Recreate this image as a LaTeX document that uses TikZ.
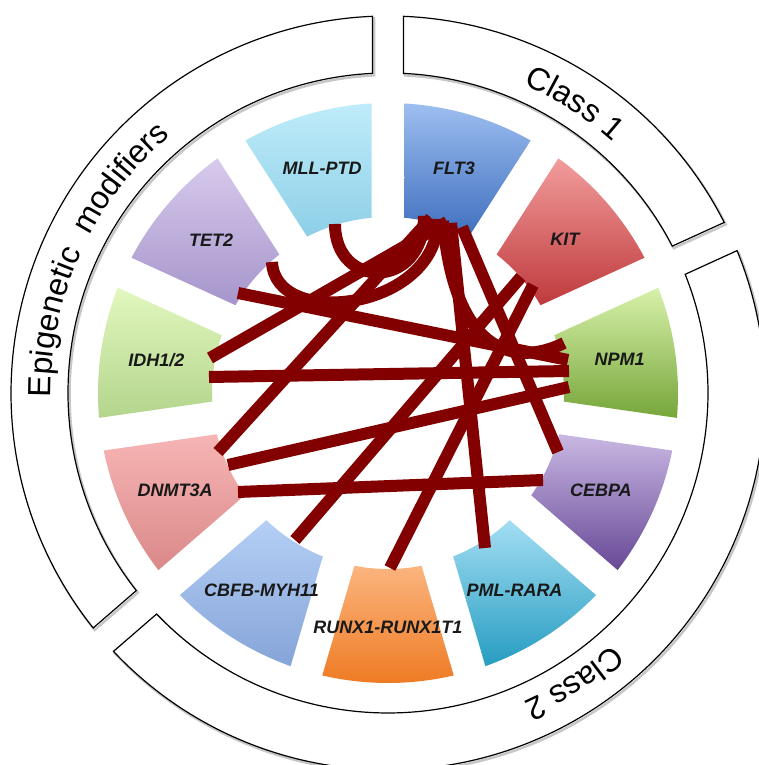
\documentclass[tikz,border=0pt]{standalone}
\usepackage{fontspec}
\setmainfont{Liberation Sans}
\usetikzlibrary{decorations.text}

\definecolor{linkred}{RGB}{130,0,0}
\definecolor{fltT}{HTML}{9DBEF0}\definecolor{fltB}{HTML}{3F6FBE}
\definecolor{kitT}{HTML}{F29C9C}\definecolor{kitB}{HTML}{BF3A3C}
\definecolor{npmT}{HTML}{D8F1AA}\definecolor{npmB}{HTML}{76A63A}
\definecolor{cebT}{HTML}{C9B8E3}\definecolor{cebB}{HTML}{674896}
\definecolor{pmlT}{HTML}{A3DEF3}\definecolor{pmlB}{HTML}{269CC1}
\definecolor{runT}{HTML}{FBB47E}\definecolor{runB}{HTML}{EE7A22}
\definecolor{cbfT}{HTML}{B5CFF5}\definecolor{cbfB}{HTML}{85A4D8}
\definecolor{dnmT}{HTML}{F7B5B5}\definecolor{dnmB}{HTML}{DA8888}
\definecolor{idhT}{HTML}{E2F7BE}\definecolor{idhB}{HTML}{B3D58C}
\definecolor{tetT}{HTML}{D8CAED}\definecolor{tetB}{HTML}{A695CB}
\definecolor{mllT}{HTML}{BFECFA}\definecolor{mllB}{HTML}{8DCFE7}

\newcommand{\skshape}[6]{%
  \pgfmathsetmacro{\skA}{#1-asin(#5/#4)}%
  \pgfmathsetmacro{\skB}{#2+asin(#5/#4)}%
  \pgfmathsetmacro{\skC}{#2+asin(#5/#3)}%
  \pgfmathsetmacro{\skD}{#1-asin(#5/#3)}%
  \path[#6] (\skA:#4) arc[start angle=\skA, end angle=\skB, radius=#4]
    -- (\skC:#3) arc[start angle=\skC, end angle=\skD, radius=#3] -- cycle;%
}

\tikzset{
  conn/.style={draw=linkred, line width=12pt},
  band/.style={draw=black, line width=1.2pt, fill=white},
  bandshadow/.style={draw=black!22, line width=2.5pt, shift={(1.5,-2)}},
  lbl/.style={font=\fontsize{18}{20}\selectfont\bfseries\itshape, text=black!90, inner sep=0pt},
  arctext/.style={decorate, decoration={text along path, text align=center,
      text={|\fontsize{32}{36}\selectfont|#1}}},
}

\begin{document}
\begin{tikzpicture}[x=1pt,y=1pt]
\useasboundingbox (0,0) rectangle (758,765);
\fill[white] (0,0) rectangle (758,765);
\begin{scope}[shift={(388,372)}]
  % outer band shadows
  \skshape{90}{24.5455}{320}{377}{15.5}{bandshadow}
  \skshape{24.5455}{-139.0909}{320}{377}{15.5}{bandshadow}
  \skshape{220.9091}{90}{320}{377}{15.5}{bandshadow}
  % outer bands
  \skshape{90}{24.5455}{320}{377}{15.5}{band}
  \skshape{24.5455}{-139.0909}{320}{377}{15.5}{band}
  \skshape{220.9091}{90}{320}{377}{15.5}{band}
  \path[arctext={Class 1}] (90:337) arc[start angle=90, end angle=24.5455, radius=337];
  \path[arctext={Class 2}] (24.5455:337) arc[start angle=24.5455, end angle=-139.0909, radius=337];
  \path[arctext={Epigenetic{\ \ }modifiers}] (220.9091:337) arc[start angle=220.9091, end angle=90, radius=337];
  % sectors
  \skshape{90}{57.2727}{176}{290}{16.5}{top color=fltT, bottom color=fltB}
  \skshape{57.2727}{24.5455}{176}{290}{16.5}{top color=kitT, bottom color=kitB}
  \skshape{24.5455}{-8.1818}{176}{290}{16.5}{top color=npmT, bottom color=npmB}
  \skshape{-8.1818}{-40.9091}{176}{290}{16.5}{top color=cebT, bottom color=cebB}
  \skshape{-40.9091}{-73.6364}{176}{290}{16.5}{top color=pmlT, bottom color=pmlB}
  \skshape{-73.6364}{-106.3636}{176}{290}{16.5}{top color=runT, bottom color=runB}
  \skshape{-106.3636}{-139.0909}{176}{290}{16.5}{top color=cbfT, bottom color=cbfB}
  \skshape{-139.0909}{-171.8182}{176}{290}{16.5}{top color=dnmT, bottom color=dnmB}
  \skshape{-171.8182}{-204.5455}{176}{290}{16.5}{top color=idhT, bottom color=idhB}
  \skshape{-204.5455}{-237.2727}{176}{290}{16.5}{top color=tetT, bottom color=tetB}
  \skshape{-237.2727}{-270}{176}{290}{16.5}{top color=mllT, bottom color=mllB}
  % labels
  \node[lbl] (flt3)  at (73.636:234)   {FLT3};
  \node[lbl] (kit)   at (40.909:234)   {KIT};
  \node[lbl] (npm1)  at (8.182:234)    {NPM1};
  \node[lbl] (cebpa) at (-24.545:234)  {CEBPA};
  \node[lbl] (pml)   at (-57.273:234)  {PML-RARA};
  \node[lbl] (runx)  at (-90:234)      {RUNX1-RUNX1T1};
  \node[lbl] (cbfb)  at (-122.727:234) {CBFB-MYH11};
  \node[lbl] (dnmt)  at (-155.455:234) {DNMT3A};
  \node[lbl] (idh)   at (171.818:234)  {IDH1/2};
  \node[lbl] (tet2)  at (139.091:234)  {TET2};
  \node[lbl] (mll)   at (106.364:234)  {MLL-PTD};
\end{scope}

\begin{scope}[shift={(0,765)}, yscale=-1]
  \coordinate (mll-e) at (335,224);
  \coordinate (tet2-c) at (272,262);
  \coordinate (tet2-e) at (238,293);
  \coordinate (idh-a) at (210,358);
  \coordinate (idh-b) at (209,377);
  \coordinate (dnmt-a) at (218,452);
  \coordinate (dnmt-b) at (228,465);
  \coordinate (dnmt-c) at (238,492);
  \coordinate (cbfb-e) at (295,540);
  \coordinate (runx-e) at (390,568);
  \coordinate (pml-e) at (485,548);
  \coordinate (cebpa-a) at (558,452);
  \coordinate (cebpa-b) at (543,480);
  \coordinate (npm1-t) at (564,343);
  \coordinate (npm1-a) at (568,360);
  \coordinate (npm1-b) at (569,371);
  \coordinate (npm1-c) at (569,387);
  \coordinate (kit-a) at (521,277);
  \coordinate (kit-b) at (533,285);
  \coordinate (flt3-a) at (424,216);
  \coordinate (flt3-b) at (431,218);
  \coordinate (flt3-c) at (438,219);
  \coordinate (flt3-g) at (443,221);
  \coordinate (flt3-d) at (447,222);
  \coordinate (flt3-e) at (451,223);
  \coordinate (flt3-f) at (462,227);

  \draw[conn] (mll-e) .. controls (335,290) and (424,290) .. (flt3-a);
  \draw[conn] (tet2-c) .. controls (275,330) and (438,310) .. (flt3-c);
  \draw[conn] (flt3-g) .. controls (455,360) and (520,365) .. (npm1-t);
  \draw[conn] (tet2-e) -- (npm1-a);
  \draw[conn] (idh-a) -- (flt3-d);
  \draw[conn] (idh-b) -- (npm1-b);
  \draw[conn] (dnmt-a) -- (flt3-b);
  \draw[conn] (dnmt-b) -- (npm1-c);
  \draw[conn] (dnmt-c) -- (cebpa-b);
  \draw[conn] (cbfb-e) -- (kit-a);
  \draw[conn] (runx-e) -- (kit-b);
  \draw[conn] (pml-e) -- (flt3-e);
  \draw[conn] (cebpa-a) -- (flt3-f);
\end{scope}
\end{tikzpicture}
\end{document}
